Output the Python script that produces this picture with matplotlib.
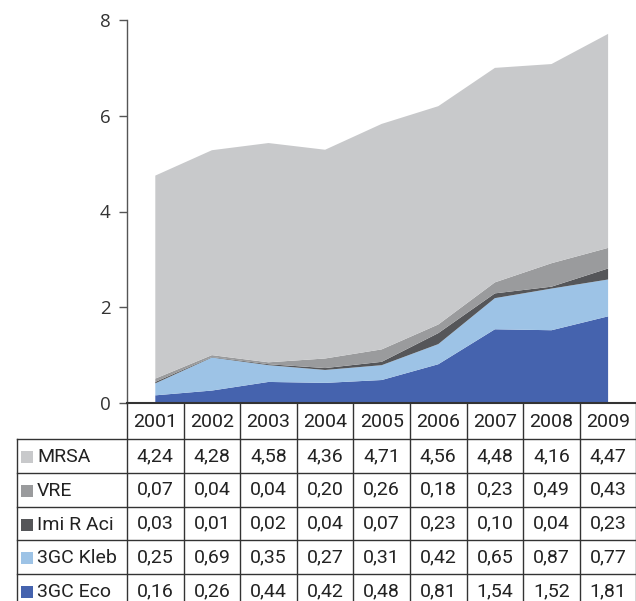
import matplotlib
matplotlib.use("Agg")
import matplotlib.pyplot as plt
import numpy as np

years = ["2001", "2002", "2003", "2004", "2005", "2006", "2007", "2008", "2009"]
series_names = ["MRSA", "VRE", "Imi R Aci", "3GC Kleb", "3GC Eco"]
mrsa = [4.24, 4.28, 4.58, 4.36, 4.71, 4.56, 4.48, 4.16, 4.47]
vre = [0.07, 0.04, 0.04, 0.20, 0.26, 0.18, 0.23, 0.49, 0.43]
imi = [0.03, 0.01, 0.02, 0.04, 0.07, 0.23, 0.10, 0.04, 0.23]
kleb = [0.25, 0.69, 0.35, 0.27, 0.31, 0.42, 0.65, 0.87, 0.77]
eco = [0.16, 0.26, 0.44, 0.42, 0.48, 0.81, 1.54, 1.52, 1.81]
colors = {"MRSA": "#c8c9cb", "VRE": "#9a9b9d", "Imi R Aci": "#555659",
          "3GC Kleb": "#9dc3e6", "3GC Eco": "#4563ae"}
values = {"MRSA": mrsa, "VRE": vre, "Imi R Aci": imi, "3GC Kleb": kleb, "3GC Eco": eco}

plt.rcParams['font.family'] = ['Open Sans', 'DejaVu Sans']
tfont = ['Roboto', 'DejaVu Sans']
W, H = 636, 601
fig = plt.figure(figsize=(W / 100, H / 100), dpi=100)

x0, x1 = 127, 636.4
ytop, ybot = 20, 403
ax = fig.add_axes([x0 / W, 1 - ybot / H, (x1 - x0) / W, (ybot - ytop) / H])
x = np.arange(len(years))
order = ["3GC Eco", "3GC Kleb", "Imi R Aci", "VRE", "MRSA"]
ax.stackplot(x, *[values[n] for n in order], colors=[colors[n] for n in order], linewidth=0)
ax.set_xlim(-0.5, len(years) - 0.5)
ax.set_ylim(0, 8)
ax.set_yticks([0, 2, 4, 6, 8])
ax.set_xticks([])
for s in ["top", "right"]:
    ax.spines[s].set_visible(False)
ax.spines["left"].set_color("#555555")
ax.spines["left"].set_linewidth(1.0)
ax.spines["bottom"].set_color("#333333")
ax.spines["bottom"].set_linewidth(1.5)
ax.tick_params(axis="y", direction="out", length=6, width=1, color="#555555",
               labelsize=13.5, labelcolor="#333333", pad=6)

# table
tb_top, tb_bot = 403, 608
tax = fig.add_axes([x0 / W, 1 - tb_bot / H, (x1 - x0) / W, (tb_bot - tb_top) / H])
tax.set_xlim(-0.5, len(years) - 0.5)
tax.set_ylim(tb_bot - tb_top, 0)  # pixel units, down
tax.axis("off")
px = (x1 - x0) / len(years)  # pixels per data unit
label_left = -0.5 - (x0 - 17) / px
header_h = 36
row_h = (tb_bot - tb_top - header_h) / len(series_names)
lc = "#333333"
lw = 1.0
fs = 14
# header
for i, yr in enumerate(years):
    tax.text(i, header_h / 2 + 1, yr, ha="center", va="center", fontsize=fs,
             color="#222222", family=tfont)
# vertical lines
for i in range(len(years) + 1):
    tax.plot([i - 0.5, i - 0.5], [0, tb_bot - tb_top], color=lc, lw=lw, clip_on=False)
tax.plot([label_left, label_left], [header_h, tb_bot - tb_top], color=lc, lw=lw, clip_on=False)
# horizontal lines
for r in range(len(series_names) + 1):
    yy = header_h + r * row_h
    tax.plot([label_left, len(years) - 0.5], [yy, yy], color=lc, lw=lw, clip_on=False)
sq = 12 / px
for r, name in enumerate(series_names):
    yc = header_h + (r + 0.5) * row_h
    tax.add_patch(plt.Rectangle((label_left + 4 / px, yc - 6 + 1), sq, 12,
                                facecolor=colors[name], edgecolor="none", clip_on=False))
    tax.text(label_left + 20 / px, yc + 1, name, ha="left", va="center", fontsize=fs,
             color="#222222", clip_on=False, family=tfont)
    for i, v in enumerate(values[name]):
        tax.text(i, yc, f"{v:.2f}".replace(".", ","), ha="center", va="center",
                 fontsize=fs, color="#222222", clip_on=False, family=tfont)

fig.savefig("out.png", dpi=100)
